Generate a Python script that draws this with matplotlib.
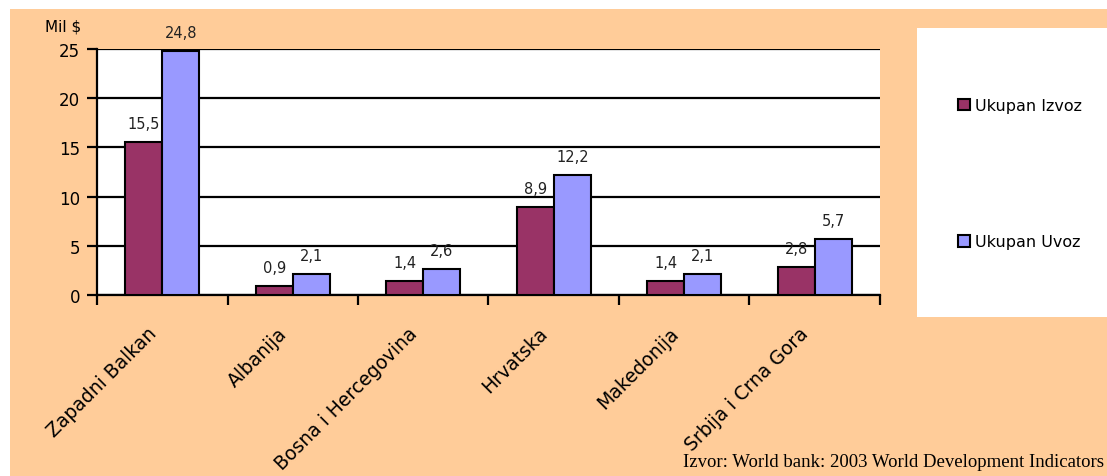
import matplotlib.pyplot as plt
from matplotlib.patches import Rectangle, Patch
from matplotlib.transforms import ScaledTranslation
import numpy as np

plt.rcParams['font.family'] = ['DejaVu Sans']

countries = ['Zapadni Balkan', 'Albanija', 'Bosna i Hercegovina', 'Hrvatska',
             'Makedonija', 'Srbija i Crna Gora']
izvoz = [15.5, 0.9, 1.4, 8.9, 1.4, 2.8]
uvoz = [24.8, 2.1, 2.6, 12.2, 2.1, 5.7]
series_names = ['Ukupan Izvoz', 'Ukupan Uvoz']
colors = ['#993366', '#9999FF']

W, H = 1107, 477
fig = plt.figure(figsize=(W / 100, H / 100), dpi=100, facecolor='white')

# peach background and white legend panel
fig.patches.append(Rectangle((10 / W, 0), 1, (H - 10) / H, transform=fig.transFigure,
                             facecolor='#FFCC99', edgecolor='none', zorder=-10))
fig.patches.append(Rectangle((917 / W, 1 - 318 / H), 1, (318 - 29) / H, transform=fig.transFigure,
                             facecolor='white', edgecolor='none', zorder=-9))

ax = fig.add_axes([97 / W, 1 - 296 / H, (880 - 97) / W, (296 - 50) / H])
ax.set_facecolor('white')

x = np.arange(len(countries))
w = 0.285
b1 = ax.bar(x - w / 2, izvoz, w, color=colors[0], edgecolor='black', linewidth=1.5, zorder=3)
b2 = ax.bar(x + w / 2, uvoz, w, color=colors[1], edgecolor='black', linewidth=1.5, zorder=3)

for bars, vals in ((b1, izvoz), (b2, uvoz)):
    for r, v in zip(bars, vals):
        ax.annotate(f'{v:.1f}'.replace('.', ','), (r.get_x() + r.get_width() / 2, v),
                    xytext=(0, 8), textcoords='offset points', ha='center', va='bottom',
                    fontsize=10.5, color='#222222')

ax.set_xlim(-0.5, len(countries) - 0.5)
ax.set_ylim(0, 25)
ax.set_yticks([0, 5, 10, 15, 20, 25])
ax.yaxis.grid(True, color='black', linewidth=1.6, zorder=0)
ax.set_axisbelow(True)
for s in ['top', 'right']:
    ax.spines[s].set_visible(False)
ax.spines['left'].set_linewidth(1.6)
ax.spines['bottom'].set_linewidth(1.6)
ax.tick_params(axis='y', length=7, width=1.6, labelsize=12, direction='out', pad=5)

# ticks at category boundaries, labels at centres
ax.set_xticks(np.arange(-0.5, len(countries)))
ax.set_xticklabels([])
ax.tick_params(axis='x', length=7, width=1.6, direction='out')
off = ScaledTranslation(-9 / 100, -35 / 100, fig.dpi_scale_trans)
for i, name in enumerate(countries):
    ax.text(i, 0, name, transform=ax.get_xaxis_transform() + off, rotation=45,
            rotation_mode='anchor', ha='right', va='center', fontsize=13.5)

fig.text(45 / W, 1 - 27 / H, 'Mil $', fontsize=11, va='center', ha='left')

handles = [Patch(facecolor=c, edgecolor='black', linewidth=1.5) for c in colors]
fig.legend(handles, series_names, loc='upper left', bbox_to_anchor=(950 / W, 1 - 91 / H),
           frameon=False, fontsize=11.5, handlelength=0.75, handleheight=0.75,
           handletextpad=0.3, labelspacing=7.6, borderpad=0)

fig.text(683 / W, 1 - 463 / H, 'Izvor: World bank: 2003 World Development Indicators',
         family=['Liberation Serif', 'DejaVu Serif'], fontsize=13.5, va='center', ha='left')

fig.savefig('out.png', dpi=100)
